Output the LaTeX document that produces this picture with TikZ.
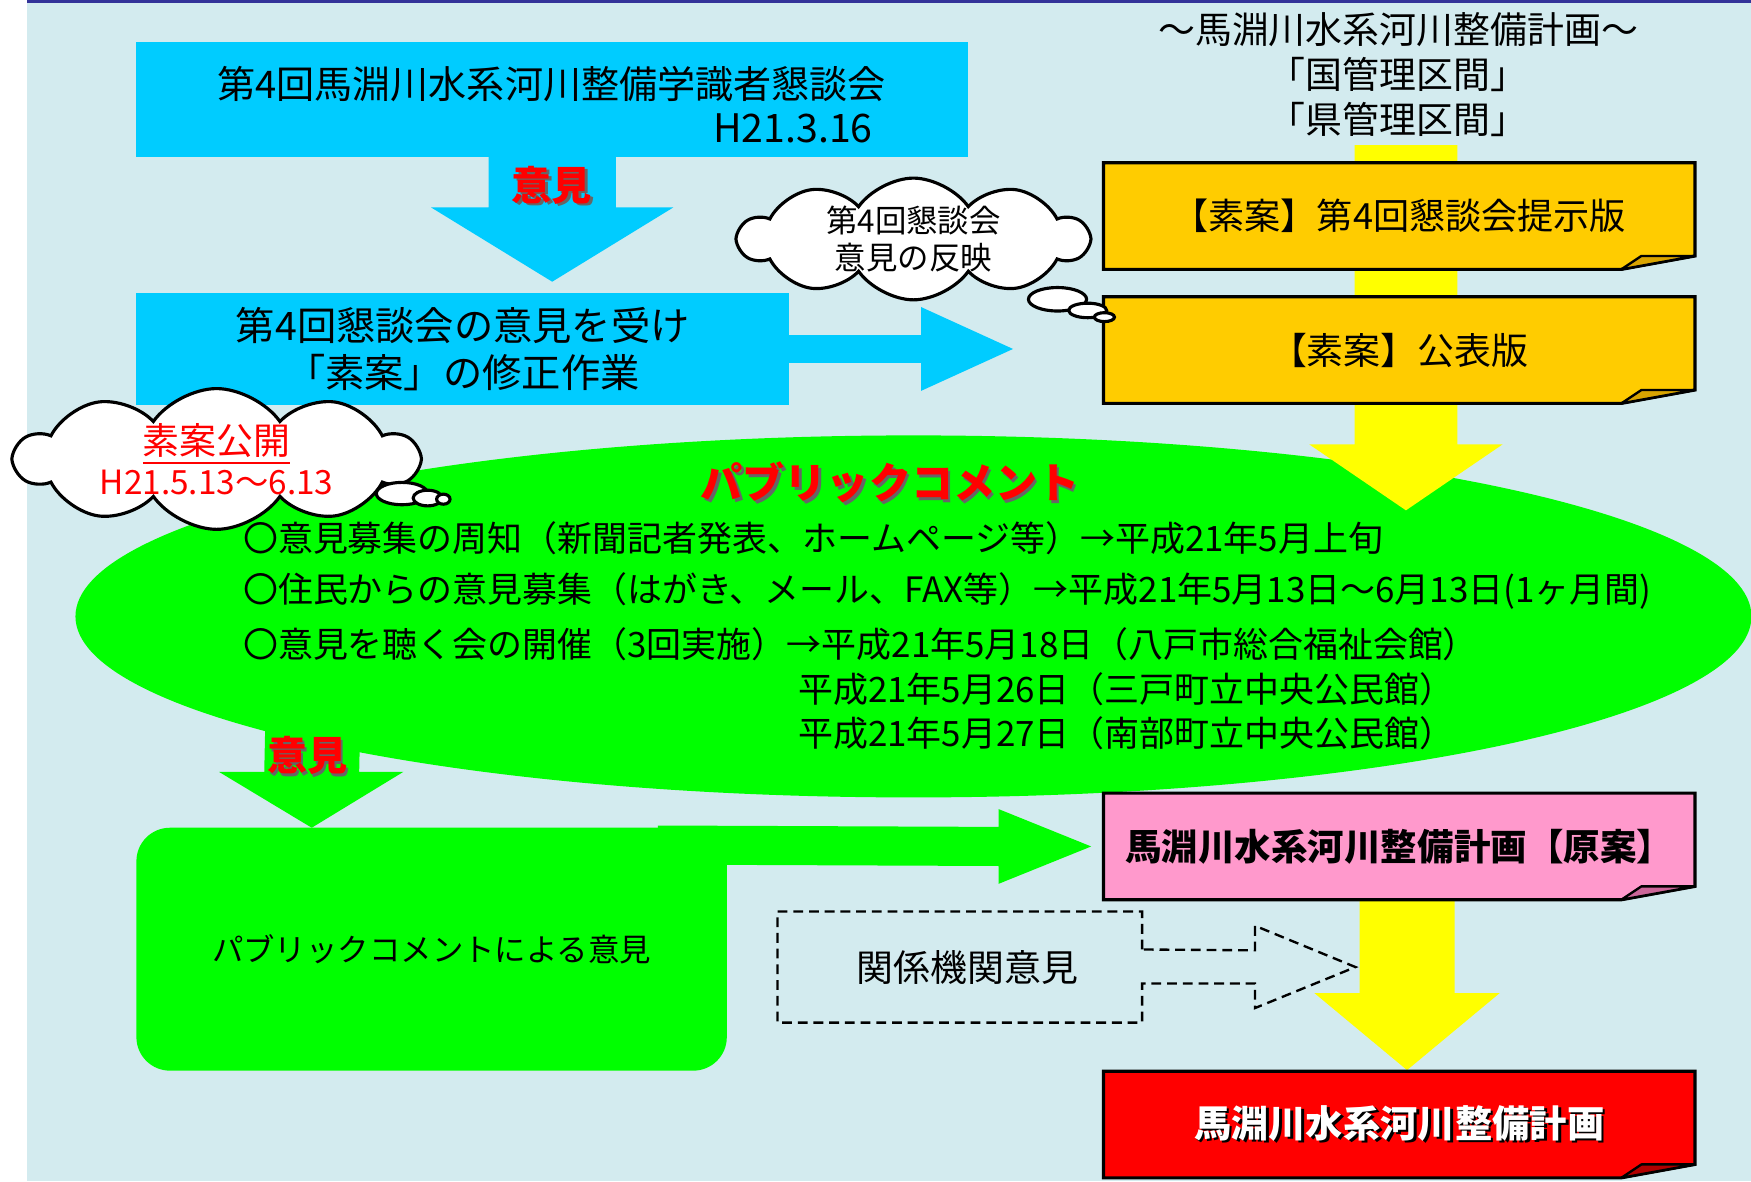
\documentclass[tikz,border=0pt]{standalone}
\usepackage{fontspec}
\setmainfont{Noto Sans CJK JP}
\usetikzlibrary{calc,backgrounds,shapes.geometric,shapes.symbols}

\definecolor{bgblue}{HTML}{D3EBEF}
\definecolor{navy}{HTML}{333399}
\definecolor{skyfill}{HTML}{00CCFF}
\definecolor{goldfill}{HTML}{FFCC00}
\definecolor{goldfold}{HTML}{D9A400}
\definecolor{pinkfill}{HTML}{FF99CC}
\definecolor{pinkfold}{HTML}{CC6699}
\definecolor{redfill}{HTML}{FF0000}
\definecolor{redfold}{HTML}{B00000}
\definecolor{limefill}{HTML}{00FF00}
\definecolor{yellowfill}{HTML}{FFFF00}

\newcommand\shadowed[2]{\rlap{\hspace{0.7pt}\raisebox{-0.7pt}{\textcolor{#1}{#2}}}#2}

\tikzset{
  notebox/.style={minimum width=5.28cm, minimum height=0.94cm, inner sep=0pt},
  cloudnote/.style={cloud, draw=black, fill=white, line width=0.8pt, cloud puffs=10, cloud puff arc=110, cloud ignores aspect, inner ysep=-2pt, align=center},
  bubble/.style={ellipse, draw=black, fill=white, line width=0.8pt, inner sep=0pt},
  item/.style={anchor=west, inner sep=0pt, font=\fontsize{8.9}{11}\selectfont},
  iken/.style={text=red, font=\bfseries\fontsize{10.2}{12}\selectfont}
}

\begin{document}
\begin{tikzpicture}[x=0.01cm, y=-0.01cm]
\useasboundingbox (0,0) rectangle (1568,1058);

% boxes and their texts
\node[minimum width=7.43cm, minimum height=1.02cm] (meet) at (494.5,89) {};
\node[font=\fontsize{9.7}{12}\selectfont] (meettitle) at (494,75) {第4回馬淵川水系河川整備学識者懇談会};
\node[anchor=east, font=\fontsize{10}{12}\selectfont] (meetdate) at (794,115) {H21.3.16};
\node[minimum width=5.83cm, minimum height=0.99cm, align=center, font=\fontsize{10}{12}\selectfont] (rework) at (414.5,312.5) {第4回懇談会の意見を受け\\「素案」の修正作業};

\node[align=center, font=\fontsize{9.4}{11.4}\selectfont] (plantitle) at (1252,67) {～馬淵川水系河川整備計画～\\「国管理区間」\\「県管理区間」};
\node[notebox, font=\fontsize{9.2}{12}\selectfont] (soan) at (1253,193.5) {【素案】第4回懇談会提示版};
\node[notebox, font=\fontsize{9.4}{12}\selectfont] (kohyo) at (1253,313.5) {【素案】公表版};
\node[notebox, font=\bfseries\fontsize{9.3}{12}\selectfont] (gen) at (1253,758) {馬淵川水系河川整備計画【原案】};
\node[notebox, text=white, font=\bfseries\fontsize{9.5}{12}\selectfont] (plan) at (1253,1007) {\shadowed{black}{馬淵川水系河川整備計画}};

\node[iken] (iken1) at (494,167) {\shadowed{black!60}{意見}};

% clouds
\node[cloudnote, inner xsep=8pt, minimum width=3.12cm, minimum height=1.08cm, font=\fontsize{8}{9.4}\selectfont] (hanei) at (818,214) {第4回懇談会\\意見の反映};
\node[bubble, minimum width=0.52cm, minimum height=0.21cm] (hb1) at (947,268) {};
\node[bubble, minimum width=0.34cm, minimum height=0.13cm] (hb2) at (974,278) {};
\node[bubble, minimum width=0.18cm, minimum height=0.08cm] (hb3) at (989,284) {};

% public comment
\node[ellipse, minimum width=15cm, minimum height=3.24cm] (pc) at (818,552) {};
\node[text=red, font=\bfseries\fontsize{10.7}{12}\selectfont] (pctitle) at (797,433) {\shadowed{black!60}{パブリックコメント}};
\node[item] (it1) at (217,482) {〇意見募集の周知（新聞記者発表、ホームページ等）→平成21年5月上旬};
\node[item] (it2) at (217,529) {〇住民からの意見募集（はがき、メール、FAX等）→平成21年5月13日～6月13日(1ヶ月間)};
\node[item] (it3) at (217,577) {〇意見を聴く会の開催（3回実施）→平成21年5月18日（八戸市総合福祉会館）};
\node[item] (it4) at (714,617) {平成21年5月26日（三戸町立中央公民館）};
\node[item] (it5) at (714,657) {平成21年5月27日（南部町立中央公民館）};

\node[cloudnote, inner xsep=7pt, minimum width=3.6cm, minimum height=1.13cm, text=red, font=\fontsize{9.4}{10.2}\selectfont] (kokai) at (194,411) {\underline{素案公開}\\{\fontsize{8.5}{10.2}\selectfont H21.5.13～6.13}};
\node[bubble, minimum width=0.46cm, minimum height=0.20cm] (kb1) at (360,442) {};
\node[bubble, minimum width=0.26cm, minimum height=0.14cm] (kb2) at (383,446) {};
\node[bubble, minimum width=0.12cm, minimum height=0.09cm] (kb3) at (397,447) {};

\node[iken] (iken2) at (275,678) {\shadowed{black!60}{意見}};

\node[minimum width=5.27cm, minimum height=2.16cm, font=\fontsize{8}{10}\selectfont] (pcbox) at (386.5,850) {パブリックコメントによる意見};
\node[minimum width=3.25cm, minimum height=0.98cm, font=\fontsize{9.4}{12}\selectfont] (kikan) at (859.5,866) {\hspace{4pt}関係機関意見};

\coordinate (ytop) at (1259,130);
\coordinate (ytip) at (1259,457);
\coordinate (gtop) at (280,650);

\begin{scope}[on background layer]
  \fill[bgblue] (24,0) rectangle (1568,1058);
  \fill[navy] (24,0) rectangle (1568,3);

  % upper blue part
  \fill[skyfill] (meet.north west) rectangle (meet.south east);
  \fill[skyfill] (rework.north west) rectangle (rework.south east);
  \fill[skyfill] ($(meet.south)+(-57,0)$) -- ++(0,45) -- ++(-51.5,0) -- ($(meet.south |- rework.north)+(0,-10)$)
    -- ($(meet.south)+(108.5,45)$) -- ++(-51.5,0) -- ($(meet.south)+(57,0)$) -- cycle;
  \fill[skyfill] ($(rework.east)+(-1,-12.5)$) -- ++(119,0) -- ++(0,-25) -- ($(rework.east -| kohyo.west)+(-81,0)$)
    -- ($(rework.east)+(118,37.5)$) -- ++(0,-25) -- ($(rework.east)+(-1,12.5)$) -- cycle;

  \node[ellipse, fill=limefill, minimum width=15cm, minimum height=3.24cm] at (pc) {};

  % yellow arrows
  \fill[yellowfill] ($(ytop)+(-46,0)$) -- ($(ytip)+(-46,-59)$) -- ($(ytip)+(-86.5,-59)$) -- (ytip)
    -- ($(ytip)+(86.5,-59)$) -- ($(ytip)+(46,-59)$) -- ($(ytop)+(46,0)$) -- cycle;
  \fill[yellowfill] ($(gen.south)+(-35.5,0)$) -- ($(plan.north)+(-35.5,-70)$) -- ($(plan.north)+(-76,-70)$) -- ($(plan.north)+(7,-1)$)
    -- ($(plan.north)+(90,-70)$) -- ($(plan.north)+(49.5,-70)$) -- ($(gen.south)+(49.5,0)$) -- cycle;

  \foreach \b/\c/\f in {soan/goldfill/goldfold, kohyo/goldfill/goldfold, gen/pinkfill/pinkfold, plan/redfill/redfold} {
    \filldraw[fill=\c, line width=0.8pt] (\b.north west) -- (\b.north east) -- ($(\b.south east)+(0,-12)$)
      -- ($(\b.south east)+(-66,0)$) -- (\b.south west) -- cycle;
    \filldraw[fill=\f, line width=0.6pt, line join=round] ($(\b.south east)+(-66,0)$) -- ($(\b.south east)+(-48,-12)$)
      -- ($(\b.south east)+(0,-12)$) -- cycle;
  }

  % green part
  \fill[limefill, rounded corners=0.3cm] (pcbox.north west) rectangle (pcbox.south east);
  \fill[limefill] ($(gtop)+(-42.5,0)$) -- ($(pcbox.north west)+(114.5,-50)$) -- ($(pcbox.north west)+(74,-50)$)
    -- ($(pcbox.north west)+(157,0)$) -- ($(pcbox.north west)+(239,-50)$) -- ($(pcbox.north west)+(199.5,-50)$)
    -- ($(gtop)+(42.5,0)$) -- cycle;
  \fill[limefill] ($(pcbox.north west)+(467,-2)$) -- ($(gen.west)+(-94,-17.5)$) -- ($(gen.west)+(-94,-33.5)$)
    -- ($(gen.west)+(-11,0)$) -- ($(gen.west)+(-94,33.5)$) -- ($(gen.west)+(-94,17.5)$)
    -- ($(pcbox.north west)+(467,33)$) -- cycle;

  \draw[line width=0.6pt, dash pattern=on 2.5pt off 1.5pt] ($(kikan.north east)+(0,34)$) -- (kikan.north east)
    -- (kikan.north west) -- (kikan.south west) -- (kikan.south east) -- ($(kikan.south east)+(0,-35)$)
    -- ++(101,0) -- ++(0,22) -- ($(kikan.east)+(191,0)$) -- ($(kikan.east)+(101,-37)$) -- ++(0,22) -- cycle;
\end{scope}
\end{tikzpicture}
\end{document}
